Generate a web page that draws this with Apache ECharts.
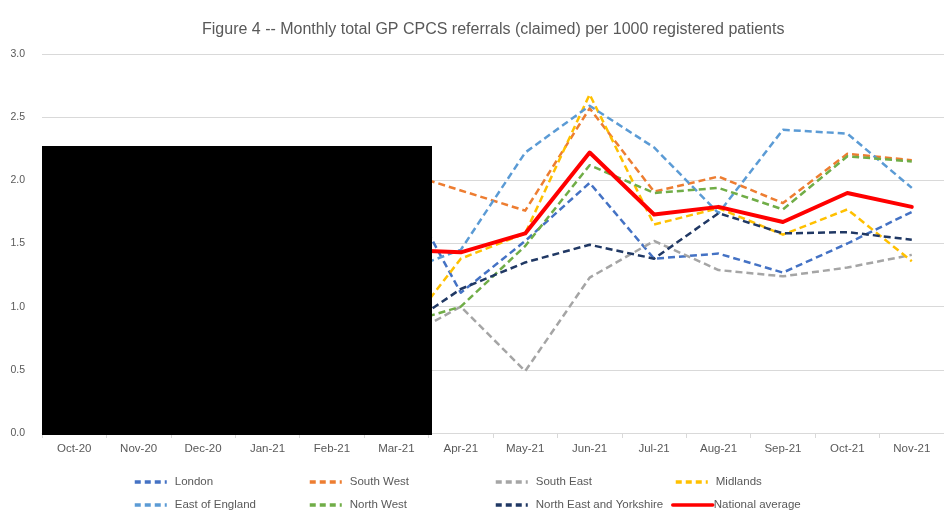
<!DOCTYPE html>
<html>
<head>
<meta charset="utf-8">
<script src="https://cdn.jsdelivr.net/npm/echarts@6/dist/echarts.min.js"></script>
<style>html,body{margin:0;padding:0;background:#fff}#c{width:944px;height:511px}</style>
</head>
<body>
<div id="c"></div>
<script>
// Categories (Oct-20 .. Mar-21 are hidden under the black redaction box in the source)
var months = ['Oct-20','Nov-20','Dec-20','Jan-21','Feb-21','Mar-21','Apr-21','May-21','Jun-21','Jul-21','Aug-21','Sep-21','Oct-21','Nov-21'];
var yTicks = [0, 0.5, 1.0, 1.5, 2.0, 2.5, 3.0];

var london        = [null, null, null, null, null, 2.05, 1.11, 1.52, 1.98, 1.38, 1.42, 1.27, 1.50, 1.75];
var southWest     = [null, null, null, null, null, 2.08, 1.92, 1.76, 2.57, 1.91, 2.03, 1.82, 2.21, 2.16];
var southEast     = [null, null, null, null, null, 0.72, 1.00, 0.49, 1.23, 1.52, 1.29, 1.24, 1.31, 1.41];
var midlands      = [null, null, null, null, null, 0.72, 1.38, 1.58, 2.68, 1.65, 1.78, 1.57, 1.77, 1.36];
var eastOfEngland = [null, null, null, null, null, 1.26, 1.45, 2.22, 2.59, 2.26, 1.74, 2.40, 2.37, 1.94];
var northWest     = [null, null, null, null, null, 0.85, 1.00, 1.48, 2.12, 1.90, 1.94, 1.77, 2.19, 2.15];
var northEastYork = [null, null, null, null, null, 0.79, 1.14, 1.35, 1.49, 1.38, 1.74, 1.58, 1.59, 1.53];
var national      = [null, null, null, null, null, 1.45, 1.43, 1.58, 2.22, 1.73, 1.79, 1.67, 1.90, 1.79];

var seriesDefs = [
  {name:'London', data:london, color:'#4472C4'},
  {name:'South West', data:southWest, color:'#ED7D31'},
  {name:'South East', data:southEast, color:'#A5A5A5'},
  {name:'Midlands', data:midlands, color:'#FFC000'},
  {name:'East of England', data:eastOfEngland, color:'#5B9BD5'},
  {name:'North West', data:northWest, color:'#70AD47'},
  {name:'North East and Yorkshire', data:northEastYork, color:'#203864'},
  {name:'National average', data:national, color:'#FF0000', solid:true}
];

var FONT = 'Liberation Sans';
var TXT = '#595959';

var series = seriesDefs.map(function(s){
  return {
    name: s.name, type: 'line', data: s.data, symbol: 'none', showSymbol: false,
    connectNulls: false, animation: false, silent: true,
    itemStyle: {color: s.color},
    lineStyle: s.solid ? {color: s.color, width: 4, type: 'solid', cap:'round', join:'round'}
                       : {color: s.color, width: 2.5, type: [7, 4], join:'round'},
    z: s.solid ? 5 : 3
  };
});

// legend placement: 4 columns x 2 rows
var legendPos = [
  {name:'London', left:128, top:471},
  {name:'South West', left:303, top:471},
  {name:'South East', left:489, top:471},
  {name:'Midlands', left:669, top:471},
  {name:'East of England', left:128, top:494},
  {name:'North West', left:303, top:494},
  {name:'North East and Yorkshire', left:489, top:494},
  {name:'National average', left:666, top:494}
];
var legends = legendPos.map(function(p){
  var isNat = p.name === 'National average';
  return {
    data:[p.name], left:p.left, top:p.top, itemWidth: isNat ? 40 : 32, itemHeight:12, itemGap:6,
    selectedMode:false, itemStyle:{opacity:0},
    lineStyle:{width: 3.5, type: isNat ? 'solid' : [6, 4]},
    textStyle:{fontFamily:FONT, fontSize:11.5, color:TXT, padding:[0,0,0, isNat ? -4 : 3]}
  };
});

var chart = echarts.init(document.getElementById('c'), null, {renderer:'canvas'});
chart.setOption({
  animation:false,
  backgroundColor:'#ffffff',
  title:{
    text:'Figure 4 -- Monthly total GP CPCS referrals (claimed) per 1000 registered patients',
    left:197, top:17,
    textStyle:{fontFamily:FONT, fontSize:16, fontWeight:'normal', color:TXT}
  },
  legend: legends,
  grid:{left:42, right:-8, top:54, bottom:78, containLabel:false},
  xAxis:{
    type:'category', data:months, boundaryGap:true,
    axisLine:{show:true, lineStyle:{color:'#d9d9d9', width:1}},
    axisTick:{show:true, length:5, lineStyle:{color:'#d9d9d9'}},
    axisLabel:{fontFamily:FONT, fontSize:11.5, color:TXT, margin:10, interval:0}
  },
  yAxis:{
    type:'value', min:yTicks[0], max:yTicks[yTicks.length-1], interval:0.5,
    axisLine:{show:false}, axisTick:{show:false},
    splitLine:{lineStyle:{color:'#d9d9d9', width:1}},
    axisLabel:{fontFamily:FONT, fontSize:10.5, color:TXT, margin:17,
      formatter:function(v){return v.toFixed(1);}}
  },
  series: series,
  graphic:[{
    type:'rect', z:100, zlevel:0,
    shape:{x:42, y:146, width:390, height:289},
    style:{fill:'#000000'}
  }]
});
</script>
</body>
</html>
